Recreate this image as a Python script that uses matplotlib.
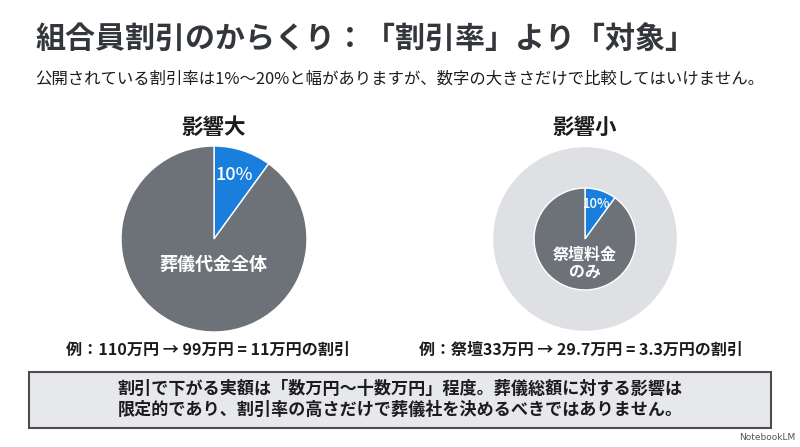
import numpy as np
import matplotlib
matplotlib.use('Agg')
import matplotlib.pyplot as plt
from matplotlib.patches import Rectangle, Circle

plt.rcParams['font.family'] = ['Noto Sans CJK JP', 'DejaVu Sans']

# data
TITLE = '組合員割引のからくり：「割引率」より「対象」'
SUBTITLE = '公開されている割引率は1%〜20%と幅がありますが、数字の大きさだけで比較してはいけません。'
HEADINGS = ['影響大', '影響小']
DISCOUNT_PCT = [10, 10]
BASE_LABELS = ['葬儀代金全体', '祭壇料金\nのみ']
TOTAL_COST = 110      # 万円, whole funeral
ALTAR_COST = 33       # 万円, altar only
EXAMPLES = ['例：110万円 → 99万円 = 11万円の割引',
            '例：祭壇33万円 → 29.7万円 = 3.3万円の割引']
NOTE_LINES = ['割引で下がる実額は「数万円〜十数万円」程度。葬儀総額に対する影響は',
              '限定的であり、割引率の高さだけで葬儀社を決めるべきではありません。']

BLUE = '#1a7fdc'
GRAY = '#6d7279'
LIGHT = '#dee0e4'
DARK = '#33363b'

W, H = 800, 447
fig = plt.figure(figsize=(8, 4.47), dpi=100)
ax = fig.add_axes([0, 0, 1, 1])


def Y(y):
    return H - y


R_OUT = 93
centers = [(214, 239), (585, 239)]
radii = [R_OUT, R_OUT * np.sqrt(ALTAR_COST / TOTAL_COST)]

# light ring showing whole cost behind the altar pie
ax.add_patch(Circle((centers[1][0], Y(centers[1][1])), R_OUT * 0.98,
                    color=LIGHT, zorder=0))

for (cx, cy), r, pct in zip(centers, radii, DISCOUNT_PCT):
    ax.pie([pct, 100 - pct], startangle=90, counterclock=False,
           center=(cx, Y(cy)), radius=r, colors=[BLUE, GRAY],
           wedgeprops=dict(edgecolor='white', linewidth=1.0))

# percent labels at mid-angle of the blue wedge
for (cx, cy), r, pct, fs in zip(centers, radii, DISCOUNT_PCT, [13, 9.5]):
    ang = np.deg2rad(90 - 360 * pct / 100 / 2)
    ax.text(cx + 0.72 * r * np.cos(ang), Y(cy) + 0.72 * r * np.sin(ang),
            f'{pct}%', color='white', fontsize=fs, ha='center', va='center',
            fontweight='medium')

ax.text(213, Y(264), BASE_LABELS[0], color='white', fontsize=13,
        ha='center', va='center', fontweight='bold')
ax.text(585, Y(263), BASE_LABELS[1], color='white', fontsize=11.5,
        ha='center', va='center', fontweight='bold', linespacing=1.05)

for (cx, _), h in zip(centers, HEADINGS):
    ax.text(cx, Y(127), h, fontsize=15.5, fontweight='bold', color='#1c1c1c',
            ha='center', va='center')

for x, e, fs in zip([208, 581], EXAMPLES, [11.6, 11.5]):
    ax.text(x, Y(350), e, fontsize=fs, fontweight='bold', color='#1c1c1c',
            ha='center', va='center')

ax.text(35, Y(39), TITLE, fontsize=21.6, fontweight='bold', color=DARK,
        ha='left', va='center')
ax.text(35, Y(79), SUBTITLE, fontsize=11.8, color='#1c1c1c',
        ha='left', va='center')

ax.add_patch(Rectangle((29, Y(428)), 742, 56, facecolor='#e6e8ec',
                       edgecolor='#4b4d50', linewidth=1.5, zorder=1))
for y, line in zip([389, 410], NOTE_LINES):
    ax.text(400, Y(y), line, fontsize=12.3, fontweight='bold', color='#1c1c1c',
            ha='center', va='center', zorder=2)

ax.text(795, Y(438), 'NotebookLM', fontsize=6.5, color='#555555',
        ha='right', va='center', family=['DejaVu Sans'])

ax.set_xlim(0, W)
ax.set_ylim(0, H)
ax.set_aspect('equal')
ax.axis('off')
fig.savefig('out.png', dpi=100, facecolor='white')
